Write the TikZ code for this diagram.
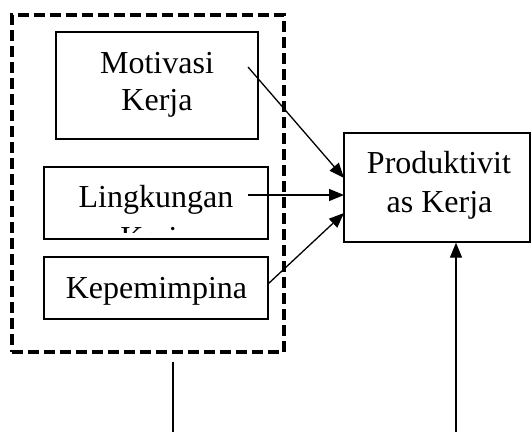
\documentclass[tikz,border=0pt]{standalone}
\usepackage{fontspec}
\setmainfont{Liberation Serif}
\usetikzlibrary{arrows.meta}
\begin{document}
\begin{tikzpicture}[x=1pt,y=-1pt,
  box/.style={draw,line width=1.4pt,inner sep=0pt},
  txt/.style={inner sep=0pt,anchor=base,font=\fontsize{32}{38}\selectfont},
  conn/.style={line width=1.3pt,-{Triangle[length=15pt,width=12pt]}},
  plain/.style={line width=1.3pt},
  group/.style={draw,line width=3.5pt,dash pattern=on 11pt off 5pt}]
\useasboundingbox (0,0) rectangle (531,432);
\fill[white] (0,0) rectangle (531,432);
% group box
\node[group,inner sep=0pt,minimum width=272pt,minimum height=337pt] (grp) at (148,183.5) {};
% boxes
\node[box,minimum width=202pt,minimum height=107pt] (mot) at (157,85.5) {};
\node[box,minimum width=224pt,minimum height=72pt] (ling) at (156,203) {};
\node[box,minimum width=224pt,minimum height=62pt] (kep) at (156,288) {};
\node[box,minimum width=186pt,minimum height=109pt] (prod) at (437,187.5) {};
% texts
\node[txt] (mot1) at (157,73) {Motivasi};
\node[txt] (mot2) at (157,110) {Kerja};
\node[txt] (ling1) at (156,207) {Lingkungan};
\begin{scope}
\clip (45,168) rectangle (267,232);
\node[txt] (ling2) at (156,248) {Kerja};
\end{scope}
\node[txt] (kep1) at (156.5,298) {Kepemimpina};
\node[txt] (prod1) at (439,173) {Produktivit};
\node[txt] (prod2) at (439.5,212) {as Kerja};
% connector points
\coordinate (s1) at (248,67);
\coordinate (s2) at (248,195);
\coordinate (s3) at (268,284);
\coordinate (e1) at (344,178);
\coordinate (e2) at (344,195);
\coordinate (e3) at (344,213);
\coordinate (b1) at (173,362);
\coordinate (b2) at (173,432);
\coordinate (b3) at (456,432);
% connectors
\draw[conn] (s1) -- (e1);
\draw[conn] (s2) -- (e2);
\draw[conn] (s3) -- (e3);
\draw[conn] (b3) -- (b3 |- prod.south);
\draw[plain] (b1) -- (b2);
\end{tikzpicture}
\end{document}
